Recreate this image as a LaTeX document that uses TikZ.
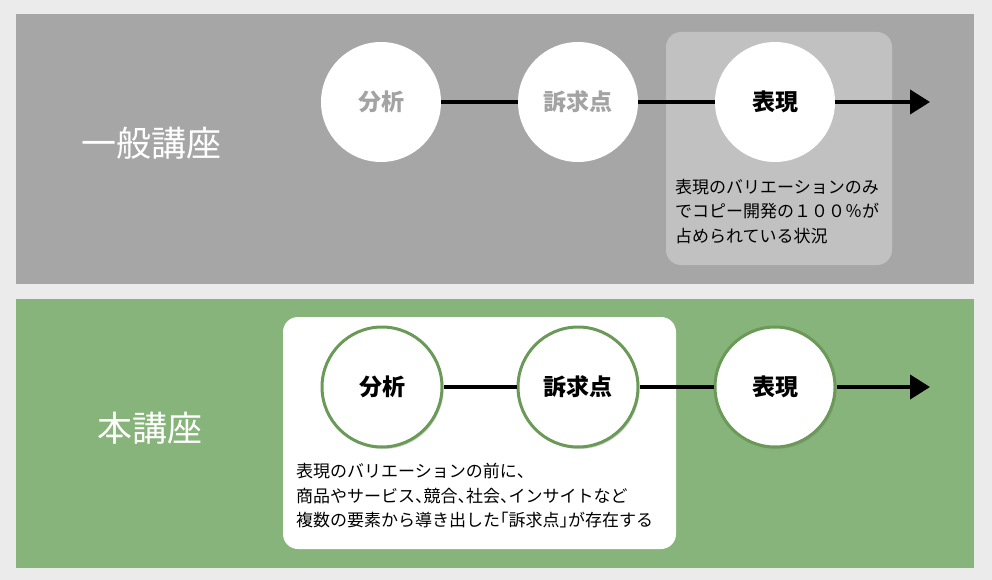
\documentclass[tikz,border=0pt]{standalone}
\usepackage{fontspec}
\setmainfont{Noto Sans CJK JP}
\usepackage{xcolor}
\usetikzlibrary{arrows.meta,shadows}

\definecolor{bgGray}{HTML}{EBEBEB}
\definecolor{panelGray}{HTML}{A6A6A6}
\definecolor{boxGray}{HTML}{C1C1C1}
\definecolor{labelGray}{HTML}{A3A3A3}
\definecolor{panelGreen}{HTML}{87B47A}
\definecolor{ringGreen}{HTML}{6B9A58}

% 半角幅の約物
\newcommand{\hcomma}{\makebox[0.5em][l]{、}}
\newcommand{\hopen}{\makebox[0.5em][r]{「}}
\newcommand{\hclose}{\makebox[0.5em][l]{」}}

\begin{document}
\begin{tikzpicture}[x=1pt, y=-1pt, >=Stealth,
	step circle/.style={circle, minimum size=120pt, inner sep=0pt, fill=white,
		font=\fontsize{23}{27}\selectfont\bfseries},
	green circle/.style={step circle, draw=ringGreen, line width=3pt,
		drop shadow={shadow xshift=1.5pt, shadow yshift=-2pt, opacity=0.3}},
	flow/.style={line width=4pt, black},
	flow end/.style={flow, -{Triangle[length=20pt,width=24pt]}},
	note/.style={anchor=north west, inner sep=0pt, align=left,
		font=\fontsize{17}{24.5}\selectfont},
	title/.style={text=white, font=\fontsize{35}{40}\selectfont}]
	
	% 1. 背景とパネル
	\fill[bgGray] (0,0) rectangle (992,580);
	\useasboundingbox (0,0) rectangle (992,580);
	\fill[panelGray] (16,14) rectangle (974,284);
	\fill[panelGreen] (16,299) rectangle (974,568);
	
	% 2. 一般講座
	\node[title] (gTitle) at (151,143) {一般講座};
	\fill[boxGray, rounded corners=15pt] (666,32) rectangle (892,265);
	
	\node[step circle, text=labelGray] (gA) at (381,102) {分析};
	\node[step circle, text=labelGray] (gB) at (578,102) {訴求点};
	\node[step circle] (gC) at (775,102) {表現};
	\coordinate (gEnd) at (930,102);
	
	\draw[flow] (gA) -- (gB);
	\draw[flow] (gB) -- (gC);
	\draw[flow end] (gC) -- (gEnd);
	
	\node[note] (gNote) at (675,179) {表現のバリエーションのみ\\でコピー開発の１００％が\\占められている状況};
	
	% 3. 本講座
	\node[title] (hTitle) at (150,428) {本講座};
	\fill[white, rounded corners=15pt] (283,317) rectangle (676,549);
	
	\node[green circle] (hA) at (382,387) {分析};
	\node[green circle] (hB) at (578,387) {訴求点};
	\node[green circle] (hC) at (775,387) {表現};
	\coordinate (hEnd) at (930,387);
	
	\draw[flow] (hA) -- (hB);
	\draw[flow] (hB) -- (hC);
	\draw[flow end] (hC) -- (hEnd);
	
	\node[note] (hNote) at (296,463) {表現のバリエーションの前に\hcomma\\商品やサービス\hcomma 競合\hcomma 社会\hcomma インサイトなど\\複数の要素から導き出した\hopen 訴求点\hclose が存在する};
	
\end{tikzpicture}
\end{document}
